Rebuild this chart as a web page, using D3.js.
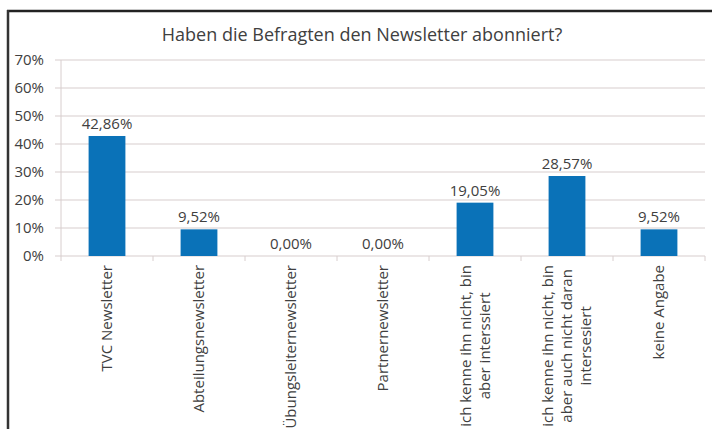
<!DOCTYPE html>
<html>
<head>
    <meta charset="utf-8">
    <title>Newsletter</title>
    <script src="https://cdn.jsdelivr.net/npm/d3@7"></script>
    <style>
        body { margin: 0; background: #ffffff; }
        text { font-family: "Open Sans", sans-serif; fill: #404040; }
    </style>
</head>
<body>
    <script type="text/javascript">
        // data
        var categories = [
            ["TVC Newsletter"],
            ["Abteilungsnewsletter"],
            ["Übungsleiternewsletter"],
            ["Partnernewsletter"],
            ["ich kenne ihn nicht, bin", "aber interssiert"],
            ["ich kenne ihn nicht, bin", "aber auch nicht daran", "intersesiert"],
            ["keine Angabe"]
        ];
        var values = [42.86, 9.52, 0.00, 0.00, 19.05, 28.57, 9.52];
        var yTicks = [0, 10, 20, 30, 40, 50, 60, 70];
        var title = "Haben die Befragten den Newsletter abonniert?";

        var w = 712;
        var h = 429;
        var svg = d3.select("body")
            .append("svg")
            .attr("width", w)
            .attr("height", h);

        // frame: dark line top and left
        svg.append("line")
            .attr("x1", 7).attr("x2", w)
            .attr("y1", 11).attr("y2", 11)
            .attr("stroke", "#222").attr("stroke-width", 2.5);
        svg.append("line")
            .attr("x1", 8).attr("x2", 8)
            .attr("y1", 10).attr("y2", h)
            .attr("stroke", "#333").attr("stroke-width", 2.5);

        svg.append("text")
            .text(title)
            .attr("x", 362)
            .attr("y", 41)
            .attr("text-anchor", "middle")
            .attr("font-size", "18px");

        var x = d3.scaleBand()
            .domain(d3.range(categories.length))
            .range([61, 705])
            .paddingInner(0.6)
            .paddingOuter(0.3);
        var y = d3.scaleLinear()
            .domain([0, 70])
            .range([256, 60]);

        var gridColor = "#d8cece";

        // gridlines + y labels
        svg.selectAll("line.grid")
            .data(yTicks)
            .enter()
            .append("line")
            .attr("class", "grid")
            .attr("x1", 55).attr("x2", 705)
            .attr("y1", function(d){ return y(d); })
            .attr("y2", function(d){ return y(d); })
            .attr("stroke", gridColor)
            .attr("stroke-width", 1.2);
        svg.selectAll("text.ytick")
            .data(yTicks)
            .enter()
            .append("text")
            .attr("class", "ytick")
            .text(function(d){ return d + "%"; })
            .attr("x", 44)
            .attr("y", function(d){ return y(d); })
            .attr("dy", "0.35em")
            .attr("text-anchor", "end")
            .attr("font-size", "15px");

        // y axis line
        svg.append("line")
            .attr("x1", 61).attr("x2", 61)
            .attr("y1", y(70)).attr("y2", y(0))
            .attr("stroke", gridColor);

        // category tick marks
        var step = x.step();
        svg.selectAll("line.xtick")
            .data(d3.range(categories.length + 1))
            .enter()
            .append("line")
            .attr("class", "xtick")
            .attr("x1", function(d){ return 61 + d * step; })
            .attr("x2", function(d){ return 61 + d * step; })
            .attr("y1", y(0)).attr("y2", y(0) + 5)
            .attr("stroke", gridColor);

        // bars
        svg.selectAll("rect")
            .data(values)
            .enter()
            .append("rect")
            .attr("x", function(d, i){ return x(i); })
            .attr("y", function(d){ return y(d); })
            .attr("width", x.bandwidth())
            .attr("height", function(d){ return y(0) - y(d); })
            .attr("fill", "#0a72b8");

        // value labels
        svg.selectAll("text.value")
            .data(values)
            .enter()
            .append("text")
            .attr("class", "value")
            .text(function(d){ return d.toFixed(2).replace(".", ",") + "%"; })
            .attr("x", function(d, i){ return x(i) + x.bandwidth() / 2; })
            .attr("y", function(d){ return y(d) - 7; })
            .attr("text-anchor", "middle")
            .attr("font-size", "15px");

        // rotated category labels, lines centred on each other
        var lineGap = 19;
        var labels = svg.selectAll("g.label")
            .data(categories)
            .enter()
            .append("g")
            .attr("class", "label")
            .attr("transform", function(d, i){
                var cx = x(i) + x.bandwidth() / 2;
                return "translate(" + cx + ",265) rotate(-90)";
            });
        labels.each(function(lines){
            var g = d3.select(this);
            var t = g.append("text")
                .attr("font-size", "15px")
                .attr("text-anchor", "middle");
            var off = -(lines.length - 1) * lineGap / 2;
            lines.forEach(function(s, k){
                t.append("tspan")
                    .attr("x", 0)
                    .attr("y", off + k * lineGap)
                    .attr("dy", "0.35em")
                    .text(s);
            });
            // put the longest line's end at the top (y = 265)
            var bb = t.node().getBBox();
            t.attr("transform", "translate(" + (-bb.width / 2) + ",0)");
        });
    </script>
</body>
</html>
